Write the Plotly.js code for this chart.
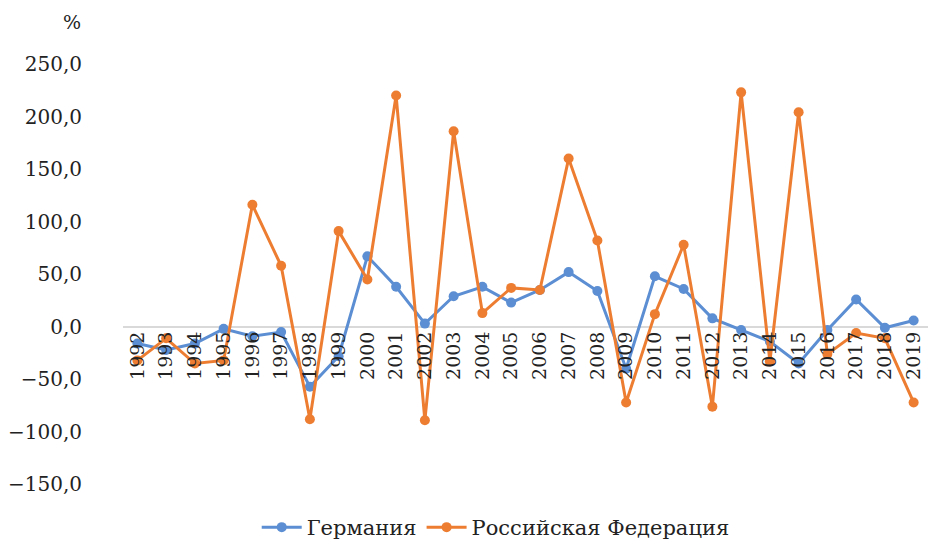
<!DOCTYPE html>
<html>
<head>
<meta charset="utf-8">
<script src="https://cdn.plot.ly/plotly-3.0.1.min.js"></script>
<style>html,body{margin:0;padding:0;background:#fff;}#chart{width:928px;height:548px;}</style>
</head>
<body>
<div id="chart"></div>
<script>
const years = ['1992','1993','1994','1995','1996','1997','1998','1999','2000','2001','2002','2003','2004','2005','2006','2007','2008','2009','2010','2011','2012','2013','2014','2015','2016','2017','2018','2019'];
const germany = [-16,-22,-16,-2,-9,-5,-57,-28,67,38,3,29,38,23,35,52,34,-40,48,36,8,-3,-14,-35,-3,26,-1,6];
const russia = [-32,-11,-35,-32,116,58,-88,91,45,220,-89,186,13,37,35,160,82,-72,12,78,-76,223,-33,204,-26,-6,-11,-72];
const seriesNames = ['Германия','Российская Федерация'];
const yTicks = [-150,-100,-50,0,50,100,150,200,250];

const yMin = -162.9, yMax = 263.3;
const font = 'DejaVu Serif';

const traces = [
  {x: years, y: germany, name: seriesNames[0], type: 'scatter', mode: 'lines+markers',
   line: {color: '#5B8ED2', width: 3}, marker: {color: '#5B8ED2', size: 10}},
  {x: years, y: russia, name: seriesNames[1], type: 'scatter', mode: 'lines+markers',
   line: {color: '#ED7D31', width: 3}, marker: {color: '#ED7D31', size: 10}}
];

const layout = {
  width: 928, height: 548,
  margin: {l: 123, r: 0, t: 50, b: 48},
  paper_bgcolor: '#fff', plot_bgcolor: '#fff',
  separators: ', ',
  font: {family: font, size: 20, color: '#222'},
  showlegend: true,
  legend: {orientation: 'h', x: 0.463, xanchor: 'center', y: -0.067, yanchor: 'middle',
           font: {family: font, size: 21, color: '#222'}, itemwidth: 40, tracegroupgap: 0},
  xaxis: {type: 'category', range: [-0.5, 27.5], anchor: 'free',
          position: (0 - yMin) / (yMax - yMin),
          showgrid: false, zeroline: false, showline: false, ticks: '',
          tickangle: -90, tickfont: {family: font, size: 19, color: '#222'}, fixedrange: true},
  yaxis: {range: [yMin, yMax], tickvals: yTicks, tickformat: '.1f',
          showgrid: false, zeroline: true, zerolinecolor: '#d9d9d9', zerolinewidth: 1.5,
          showline: false, ticks: '', ticklabelstandoff: 40,
          tickfont: {family: font, size: 20, color: '#222'}},
  annotations: [{text: '%', xref: 'paper', yref: 'paper', x: (72 - 123) / 805, y: (500 - 22) / 450,
                 xanchor: 'center', yanchor: 'middle', showarrow: false,
                 font: {family: font, size: 19, color: '#222'}}]
};

Plotly.newPlot('chart', traces, layout, {displayModeBar: false, staticPlot: true});
</script>
</body>
</html>
